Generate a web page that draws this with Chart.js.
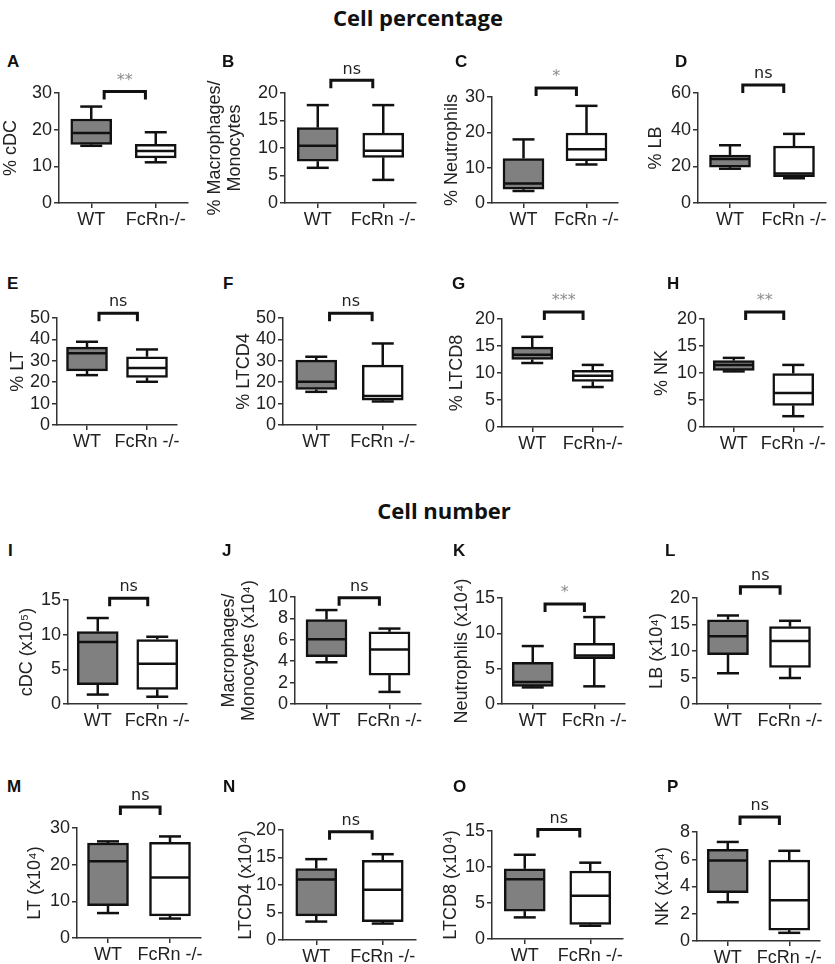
<!DOCTYPE html>
<html>
<head>
<meta charset="utf-8">
<script src="https://cdn.jsdelivr.net/npm/chart.js@4.4.0/dist/chart.umd.min.js"></script>
<style>
    body { margin: 0; background: #fff; }
    #page { position: relative; width: 835px; height: 964px; overflow: hidden; background: #fff; }
    #page canvas { position: absolute; }
    .sec { position: absolute; font-family: "Open Sans", sans-serif; font-weight: bold; font-size: 22px; color: #111; transform: translate(-50%, -50%); white-space: nowrap; }
    .letter { position: absolute; font-family: "Liberation Sans", Arial, sans-serif; font-weight: bold; font-size: 17px; line-height: 17px; color: #111; }
</style>
</head>
<body>
<div id="page">
    <div class="sec" style="left:418px; top:17px;">Cell percentage</div>
    <div class="sec" style="left:444px; top:510px;">Cell number</div>
</div>
<script>
// Panel data
const panelIds = ['A', 'B', 'C', 'D', 'E', 'F', 'G', 'H', 'I', 'J', 'K', 'L', 'M', 'N', 'O', 'P'];
const wtLabel = 'WT';
const koLabels = ['FcRn-/-', 'FcRn -/-', 'FcRn -/-', 'FcRn -/-', 'FcRn -/-', 'FcRn -/-', 'FcRn-/-', 'FcRn -/-',
    'FcRn -/-', 'FcRn -/-', 'FcRn -/-', 'FcRn -/-', 'FcRn -/-', 'FcRn -/-', 'FcRn -/-', 'FcRn -/-'];
const yTitles = [
    '% cDC', ['% Macrophages/', 'Monocytes'], '% Neutrophils', '% LB',
    '% LT', '% LTCD4', '% LTCD8', '% NK',
    'cDC (x10\u2075)', ['Macrophages/', 'Monocytes (x10\u2074)'], 'Neutrophils (x10\u2074)', 'LB (x10\u2074)',
    'LT (x10\u2074)', 'LTCD4 (x10\u2074)', 'LTCD8 (x10\u2074)', 'NK (x10\u2074)'
];
const yMax = [30, 20, 30, 60, 50, 50, 20, 20, 15, 10, 15, 20, 30, 20, 15, 8];
const yStep = [10, 5, 10, 20, 10, 10, 5, 5, 5, 2, 5, 5, 10, 5, 5, 2];

// box stats: [min, q1, median, q3, max]
const wtStats = [
    [15.6, 16.0, 19.1, 22.9, 26.3],
    [6.4, 7.6, 10.4, 13.7, 17.8],
    [3.4, 3.9, 5.5, 12.6, 18.0],
    [18.7, 19.6, 24.0, 26.2, 31.5],
    [23.3, 25.3, 33.5, 36.4, 38.9],
    [15.5, 16.6, 20.2, 30.3, 31.9],
    [11.85, 12.5, 13.4, 14.8, 16.7],
    [10.3, 10.5, 11.5, 12.3, 12.8],
    [1.36, 2.8, 8.95, 10.45, 12.4],
    [3.9, 4.42, 6.05, 7.9, 8.78],
    [2.35, 2.5, 3.1, 5.9, 8.2],
    [5.8, 9.3, 12.8, 15.9, 16.7],
    [6.8, 8.8, 20.9, 25.9, 26.35],
    [3.35, 4.4, 11.0, 13.0, 14.7],
    [3.0, 3.87, 8.3, 9.75, 11.7],
    [2.85, 3.55, 5.9, 6.72, 7.27]
];
const koStats = [
    [11.1, 12.3, 14.2, 16.0, 19.3],
    [4.2, 8.3, 9.5, 12.7, 17.8],
    [10.9, 12.0, 15.2, 19.8, 27.5],
    [13.5, 14.3, 16.1, 31.1, 37.7],
    [20.2, 22.2, 26.6, 31.9, 35.3],
    [11.0, 11.6, 13.5, 28.0, 38.1],
    [7.4, 8.45, 9.5, 10.5, 11.5],
    [2.0, 4.0, 6.3, 9.9, 11.5],
    [1.05, 2.1, 5.8, 9.3, 9.7],
    [1.13, 2.7, 5.1, 6.75, 7.05],
    [2.5, 6.4, 6.85, 8.6, 12.3],
    [4.9, 6.9, 11.9, 14.6, 15.7],
    [5.3, 6.05, 16.5, 26.1, 27.7],
    [2.99, 3.35, 9.15, 14.5, 15.6],
    [1.84, 2.03, 6.0, 9.45, 10.6],
    [0.6, 0.8, 3.0, 5.94, 6.62]
];
const signif = ['**', 'ns', '*', 'ns', 'ns', 'ns', '***', '**', 'ns', 'ns', '*', 'ns', 'ns', 'ns', 'ns', 'ns'];
const bracketTop = [30.4, 22.3, 32.55, 64.4, 52.2, 52.2, 21.3, 21.3, 15.25, 9.94, 14.15, 22.1, 35.7, 19.7, 15.2, 9.1];

// Layout (pixels)
const axisX = [59, 285, 492, 698, 57, 283, 502, 704, 68, 295, 502, 697, 77, 283, 492, 697];
const plotTop = [93, 93, 97, 93, 318, 318, 319, 319, 600, 597, 598, 598, 828, 830, 831, 832];
const plotBottom = [203, 203, 203, 203, 425, 425, 427, 427, 704, 704, 704, 704, 938, 940, 939, 941];
const plotW = [129, 131, 126, 128, 120, 133, 121, 119, 119, 126, 123, 124, 124, 133, 131, 123];
const titleX = [11, 215, 452, 656, 18, 244, 457, 662, 27, 229, 462, 657, 35, 246, 451, 663];
const letterPos = [[7, 61], [222, 61], [455, 61], [675, 61], [7, 283], [223, 283], [452, 283], [667, 283],
    [8, 550], [222, 550], [453, 550], [665, 550], [7, 786], [223, 786], [453, 786], [667, 786]];

Chart.defaults.font.family = '"Liberation Sans", Arial, sans-serif';
Chart.defaults.color = '#222';

const INK = '#111';
const FONT_SIZE = 18;
const TITLE_LH = 1.1;

function strokeLine(ctx, x1, y1, x2, y2) {
    ctx.beginPath();
    ctx.moveTo(x1, y1);
    ctx.lineTo(x2, y2);
    ctx.stroke();
}

// whiskers, medians, bracket and significance label
const boxParts = {
    id: 'boxParts',
    afterDatasetsDraw(chart, args, opts) {
        const ctx = chart.ctx;
        const ys = chart.scales.y;
        const xs = chart.scales.x;
        const bars = chart.getDatasetMeta(0).data;

        [opts.wt, opts.ko].forEach((s, k) => {
            const bx = bars[k].x;
            const half = bars[k].width / 2;
            const [mn, q1, md, q3, mx] = s.map(v => ys.getPixelForValue(v));
            ctx.save();
            ctx.strokeStyle = INK;
            ctx.lineWidth = 2.5;
            strokeLine(ctx, bx, q3, bx, mx);
            strokeLine(ctx, bx - 11, mx, bx + 11, mx);
            strokeLine(ctx, bx, q1, bx, mn);
            strokeLine(ctx, bx - 11, mn, bx + 11, mn);
            strokeLine(ctx, bx - half + 1, md, bx + half - 1, md);
            ctx.restore();
        });

        const x1 = xs.getPixelForValue(0.2);
        const x2 = xs.getPixelForValue(0.84);
        const top = ys.getPixelForValue(opts.top);
        ctx.save();
        ctx.strokeStyle = INK;
        ctx.lineWidth = 3;
        ctx.beginPath();
        ctx.moveTo(x1, top + 8);
        ctx.lineTo(x1, top);
        ctx.lineTo(x2, top);
        ctx.lineTo(x2, top + 8);
        ctx.stroke();
        ctx.font = '16px "DejaVu Sans"';
        ctx.fillStyle = opts.sig === 'ns' ? '#222' : '#8c8c8c';
        ctx.textAlign = 'center';
        ctx.textBaseline = 'middle';
        ctx.fillText(opts.sig, (x1 + x2) / 2, top - 11);
        ctx.restore();
    }
};

const page = document.getElementById('page');

panelIds.forEach((id, i) => {
    const padTop = 60, xh = 34, padRight = 40;
    const left = Math.round(titleX[i] - FONT_SIZE * TITLE_LH / 2);
    const yw = axisX[i] - left;
    const plotH = plotBottom[i] - plotTop[i];

    const letter = document.createElement('div');
    letter.className = 'letter';
    letter.textContent = id;
    letter.style.left = letterPos[i][0] + 'px';
    letter.style.top = (letterPos[i][1] - 8) + 'px';
    page.appendChild(letter);

    const cv = document.createElement('canvas');
    cv.width = yw + plotW[i] + padRight;
    cv.height = padTop + plotH + xh;
    cv.style.left = left + 'px';
    cv.style.top = (plotTop[i] - padTop) + 'px';
    page.appendChild(cv);

    const wt = wtStats[i], ko = koStats[i];
    const axisGrid = { display: true, drawOnChartArea: false, offset: false, tickLength: 5, color: '#333', lineWidth: 1.5 };
    const axisBorder = { display: true, color: '#333', width: 1.5 };

    new Chart(cv, {
        type: 'bar',
        data: {
            labels: [wtLabel, koLabels[i]],
            datasets: [{
                data: [[wt[1], wt[3]], [ko[1], ko[3]]],
                backgroundColor: ['#808080', '#ffffff'],
                borderColor: INK,
                borderWidth: 2.5,
                borderSkipped: false,
                barThickness: 41
            }]
        },
        options: {
            responsive: false,
            animation: false,
            devicePixelRatio: 1,
            layout: { padding: { top: padTop, right: padRight, left: 0, bottom: 0 } },
            plugins: {
                legend: { display: false },
                tooltip: { enabled: false },
                boxParts: { wt: wt, ko: ko, sig: signif[i], top: bracketTop[i] }
            },
            scales: {
                x: {
                    offset: true,
                    grid: axisGrid,
                    border: axisBorder,
                    ticks: { color: '#222', font: { size: FONT_SIZE }, padding: 1, maxRotation: 0, autoSkip: false },
                    afterFit: s => { s.height = xh; }
                },
                y: {
                    min: 0,
                    max: yMax[i],
                    grid: axisGrid,
                    border: axisBorder,
                    ticks: { stepSize: yStep[i], autoSkip: false, color: '#222', font: { size: FONT_SIZE }, padding: 2 },
                    title: { display: true, text: yTitles[i], color: '#222', font: { size: FONT_SIZE, lineHeight: TITLE_LH }, padding: 0 },
                    afterFit: s => { s.width = yw; }
                }
            }
        },
        plugins: [boxParts]
    });
});
</script>
</body>
</html>
